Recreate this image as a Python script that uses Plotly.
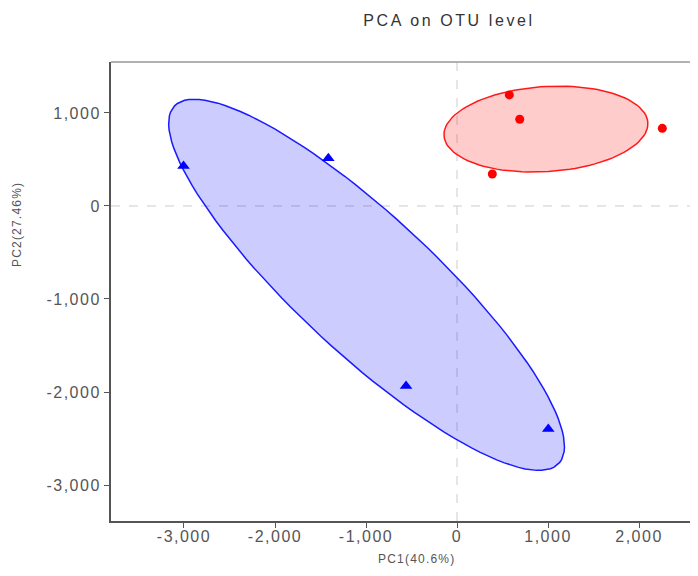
import numpy as np
import plotly.graph_objects as go

# PCA scores
grp_a_x = [575, 689, 2256, 388]
grp_a_y = [1194, 932, 835, 344]
grp_b_x = [-3005, -1414, -560, 1003]
grp_b_y = [430, 513, -1935, -2398]

x_ticks = [-3000, -2000, -1000, 0, 1000, 2000]
x_labels = ['-3,000', '-2,000', '-1,000', '0', '1,000', '2,000']
y_ticks = [-3000, -2000, -1000, 0, 1000]
y_labels = ['-3,000', '-2,000', '-1,000', '0', '1,000']

ELL_K = 1.3  # ellipse scale


def spaced(s, px):
    # the reference text is drawn with wide letter spacing
    return f'<span style="letter-spacing:{px}px">{s}</span>'


def ellipse(xs, ys, k=ELL_K, n=120):
    # confidence-style ellipse from the sample covariance
    pts = np.vstack([xs, ys]).astype(float)
    mu = pts.mean(axis=1)
    cov = np.cov(pts)
    vals, vecs = np.linalg.eigh(cov)
    t = np.linspace(0, 2 * np.pi, n)
    circ = np.vstack([np.cos(t), np.sin(t)])
    e = vecs @ (np.sqrt(vals)[:, None] * circ) * k
    return e[0] + mu[0], e[1] + mu[1]


fig = go.Figure()

ex, ey = ellipse(grp_b_x, grp_b_y)
fig.add_trace(go.Scatter(x=ex, y=ey, mode='lines', fill='toself',
                         fillcolor='rgba(0,0,255,0.2)', line=dict(color='#1a1aff', width=1.5),
                         hoverinfo='skip', showlegend=False))
ex, ey = ellipse(grp_a_x, grp_a_y)
fig.add_trace(go.Scatter(x=ex, y=ey, mode='lines', fill='toself',
                         fillcolor='rgba(255,0,0,0.2)', line=dict(color='#ff1a1a', width=1.5),
                         hoverinfo='skip', showlegend=False))

fig.add_trace(go.Scatter(x=grp_b_x, y=grp_b_y, mode='markers', name='B',
                         marker=dict(symbol='triangle-up', size=11, color='#0000ff'),
                         showlegend=False))
fig.add_trace(go.Scatter(x=grp_a_x, y=grp_a_y, mode='markers', name='A',
                         marker=dict(symbol='circle', size=9, color='#ff0000'),
                         showlegend=False))

# dashed zero lines
fig.add_shape(type='line', xref='x', yref='paper', x0=0, x1=0, y0=0, y1=1,
              line=dict(color='#cccccc', width=1, dash='dash'), layer='below')
fig.add_shape(type='line', xref='paper', yref='y', x0=0, x1=1, y0=0, y1=0,
              line=dict(color='#cccccc', width=1, dash='dash'), layer='below')
# top border
fig.add_shape(type='line', xref='paper', yref='paper', x0=0, x1=1, y0=1, y1=1,
              line=dict(color='#999999', width=1.5))

fig.update_layout(
    font_family='Liberation Sans',
    title=dict(text=spaced('PCA on OTU level', 2.6), xref='container', x=441 / 690,
               xanchor='center', yref='container', y=1 - 12.5 / 560, yanchor='middle',
               font=dict(color='#333333', size=16)),
    xaxis=dict(range=[-3802, 2648], tickvals=x_ticks,
               ticktext=[spaced(s, 1.5) for s in x_labels],
               ticks='outside', ticklen=5, tickcolor='#555555', ticklabelstandoff=-5,
               showline=True, linecolor='#555555', linewidth=2,
               showgrid=False, zeroline=False,
               tickfont=dict(color='#555555', size=16)),
    yaxis=dict(range=[-3387, 1548], tickvals=y_ticks,
               ticktext=[spaced(s, 1.5) for s in y_labels],
               ticks='outside', ticklen=5, tickcolor='#555555',
               showline=True, linecolor='#555555', linewidth=2,
               showgrid=False, zeroline=False,
               tickfont=dict(color='#555555', size=16)),
    annotations=[
        dict(text=spaced('PC1(40.6%)', 1.2), xref='paper', yref='paper', x=0.521, y=-0.083,
             xanchor='center', yanchor='middle',
             showarrow=False, font=dict(size=12, color='#555555')),
        dict(text=spaced('PC2(27.46%)', 1.2), xref='paper', yref='paper', x=-0.160, y=0.645,
             xanchor='center', yanchor='middle',
             textangle=-90, showarrow=False, font=dict(size=12, color='#555555')),
    ],
    plot_bgcolor='white', paper_bgcolor='white',
    margin=dict(l=103, r=0, t=54, b=47),
    width=690, height=560, autosize=False,
)

fig.write_html("out.html")
